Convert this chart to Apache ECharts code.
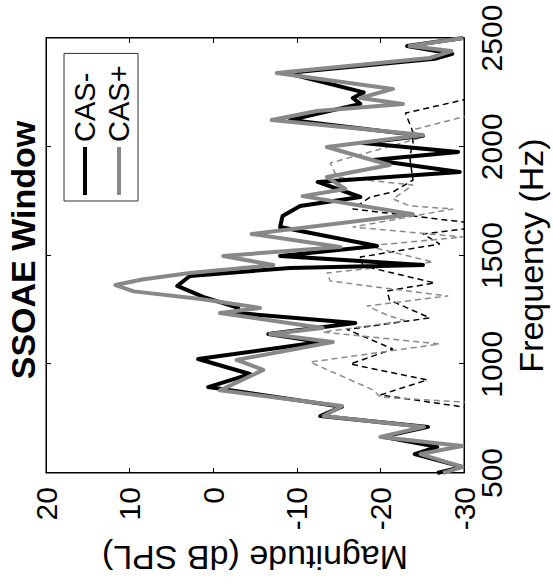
<!DOCTYPE html>
<html>
<head>
<meta charset="utf-8">
<script src="https://cdn.jsdelivr.net/npm/echarts@6/dist/echarts.min.js"></script>
<style>
html,body{margin:0;padding:0;width:553px;height:585px;overflow:hidden;background:#fff;}
#chart{position:absolute;left:0;top:0;width:585px;height:553px;transform-origin:0 0;transform:translate(0,585px) rotate(-90deg);}
</style>
</head>
<body>
<div id="chart"></div>
<script>
// Tick values
const freqTicks = [500, 1000, 1500, 2000, 2500];
const magTicks = [-30, -20, -10, 0, 10, 20];

// CAS- (black solid)
const casMinusFreq = [500, 528, 587, 620, 666, 712, 762, 805, 895, 955, 1024, 1102, 1139, 1190, 1236, 1259, 1310, 1360, 1406, 1443, 1456, 1498, 1544, 1631, 1682, 1728, 1746, 1769, 1838, 1884, 1939, 1976, 2017, 2050, 2123, 2197, 2224, 2250, 2339, 2404, 2427, 2463, 2500];
const casMinusMag  = [-26.8, -29.8, -24.1, -26.8, -20.3, -25.7, -12.8, -15.4, 0.6, -4.4, 1.8, -12.8, -6.6, -17.0, -2.8, -3.0, 1.2, 4.3, 2.8, -9.2, -25.1, -8.0, -19.6, -8.0, -8.3, -10.4, -13.6, -17.6, -12.5, -29.5, -19.1, -29.3, -17.9, -25.1, -9.2, -17.6, -16.7, -18.0, -8.8, -26.5, -28.6, -23.2, -29.9];

// CAS+ (gray solid)
const casPlusFreq = [500, 528, 587, 624, 666, 712, 762, 808, 880, 974, 1020, 1102, 1139, 1167, 1236, 1259, 1300, 1335, 1364, 1390, 1420, 1456, 1498, 1539, 1599, 1690, 1773, 1806, 1861, 1916, 1999, 2054, 2123, 2164, 2197, 2224, 2266, 2339, 2408, 2440, 2463, 2500];
const casPlusMag  = [-27.5, -29.8, -24.8, -29.8, -20.0, -25.2, -13.2, -15.4, -0.8, -6.0, -2.8, -14.3, -6.8, -13.1, -0.8, -5.6, 1.5, 9.5, 11.7, 8.5, 2.8, -7.2, -1.2, -15.2, -4.6, -23.9, -10.7, -15.8, -13.6, -21.1, -13.6, -25.1, -7.0, -12.4, -22.7, -17.6, -21.5, -7.6, -25.9, -28.5, -23.5, -29.9];

// CAS- noise floor (black dashed)
const noiseMinusFreq = [780, 803, 859, 928, 1001, 1070, 1160, 1213, 1295, 1337, 1374, 1452, 1493, 1553, 1599, 1622, 1640, 1654, 1714, 1769, 1792, 1847, 1953, 2017, 2077, 2155, 2215, 2240];
const noiseMinusMag  = [-33, -30.0, -20.0, -25.6, -16.4, -21.5, -16.0, -25.9, -21.1, -20.8, -26.5, -17.9, -17.6, -27.1, -25.1, -29.9, -33, -29.9, -16.7, -18.8, -21.5, -23.9, -23.5, -23.9, -23.8, -23.0, -29.9, -33];

// CAS+ noise floor (gray dashed)
const noisePlusFreq = [800, 826, 849, 882, 1010, 1093, 1148, 1200, 1226, 1268, 1314, 1351, 1383, 1420, 1470, 1544, 1585, 1631, 1714, 1728, 1760, 1824, 1861, 1925, 2040, 2077, 2137, 2160];
const noisePlusMag  = [-33, -30.0, -20.0, -19.1, -11.6, -27.1, -13.1, -23.0, -20.8, -18.4, -28.1, -20.3, -14.0, -13.6, -26.3, -18.4, -29.9, -16.7, -28.7, -23.5, -21.5, -23.9, -14.8, -14.0, -24.7, -23.8, -29.9, -33];

const zip = (a, b) => a.map((v, i) => [v, b[i]]);
const FONT = '"Liberation Sans", Arial, Helvetica, sans-serif';

const chart = echarts.init(document.getElementById('chart'), null, {renderer: 'svg', width: 585, height: 553});

const axisCommon = {
  axisLine: {show: true, onZero: false, lineStyle: {color: '#000', width: 1}},
  axisTick: {show: true, inside: true, length: 5, lineStyle: {color: '#000', width: 1}},
  splitLine: {show: false}
};
const plain = v => String(v);

chart.setOption({
  animation: false,
  backgroundColor: '#fff',
  title: {
    text: 'SSOAE Window',
    left: 330, top: 1, textAlign: 'center',
    textStyle: {fontFamily: FONT, fontSize: 34, fontWeight: 'bold', color: '#000'}
  },
  legend: {
    data: [{name: 'CAS-', icon: 'rect'}, {name: 'CAS+', icon: 'rect'}],
    orient: 'vertical',
    left: 384, top: 64,
    itemWidth: 48, itemHeight: 4, itemGap: 4,
    padding: [6, 12, 4, 6],
    borderColor: '#333', borderWidth: 1,
    textStyle: {fontFamily: FONT, fontSize: 29, lineHeight: 30, color: '#000'}
  },
  grid: {left: 112, right: 38, top: 46, bottom: 89, show: true, borderColor: '#000', borderWidth: 1, containLabel: false},
  xAxis: [
    Object.assign({
      type: 'value', min: freqTicks[0], max: freqTicks[freqTicks.length - 1], interval: freqTicks[1] - freqTicks[0],
      position: 'bottom',
      name: 'Frequency (Hz)', nameLocation: 'middle', nameGap: 50,
      nameTextStyle: {fontFamily: FONT, fontSize: 34, color: '#000'},
      axisLabel: {margin: 12, fontFamily: FONT, fontSize: 30, color: '#000', formatter: plain}
    }, axisCommon),
    Object.assign({
      type: 'value', min: freqTicks[0], max: freqTicks[freqTicks.length - 1], interval: freqTicks[1] - freqTicks[0],
      position: 'top', axisLabel: {show: false}
    }, axisCommon)
  ],
  yAxis: [
    Object.assign({
      type: 'value', min: magTicks[0], max: magTicks[magTicks.length - 1], interval: magTicks[1] - magTicks[0],
      position: 'left',
      name: 'Magnitude (dB SPL)', nameLocation: 'middle', nameGap: 62,
      nameTextStyle: {fontFamily: FONT, fontSize: 34, color: '#000'},
      axisLabel: {margin: 14, fontFamily: FONT, fontSize: 30, color: '#000', formatter: plain}
    }, axisCommon),
    Object.assign({
      type: 'value', min: magTicks[0], max: magTicks[magTicks.length - 1], interval: magTicks[1] - magTicks[0],
      position: 'right', axisLabel: {show: false}
    }, axisCommon)
  ],
  series: [
    {
      name: 'CAS- noise', type: 'line', xAxisIndex: 0, yAxisIndex: 0, symbol: 'none', clip: true,
      data: zip(noiseMinusFreq, noiseMinusMag),
      lineStyle: {color: '#000', width: 1.5, type: [6, 4]}, z: 2
    },
    {
      name: 'CAS+ noise', type: 'line', xAxisIndex: 0, yAxisIndex: 0, symbol: 'none', clip: true,
      data: zip(noisePlusFreq, noisePlusMag),
      lineStyle: {color: '#8a8a8a', width: 1.5, type: [6, 4]}, z: 2
    },
    {
      name: 'CAS-', type: 'line', xAxisIndex: 0, yAxisIndex: 0, symbol: 'none', clip: true,
      data: zip(casMinusFreq, casMinusMag),
      itemStyle: {color: '#000'},
      lineStyle: {color: '#000', width: 4, join: 'round'}, z: 3
    },
    {
      name: 'CAS+', type: 'line', xAxisIndex: 0, yAxisIndex: 0, symbol: 'none', clip: true,
      data: zip(casPlusFreq, casPlusMag),
      itemStyle: {color: '#888888'},
      lineStyle: {color: '#888888', width: 4, join: 'round'}, z: 4
    }
  ]
});
</script>
</body>
</html>
